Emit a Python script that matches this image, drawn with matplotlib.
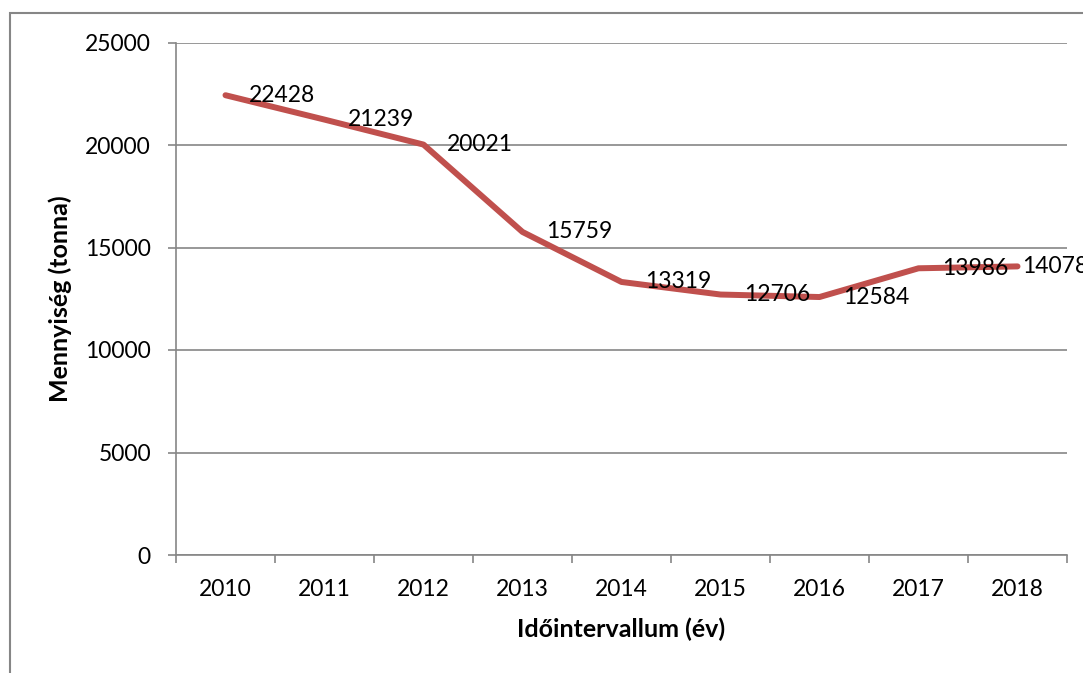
import matplotlib
matplotlib.use("Agg")
import matplotlib.pyplot as plt
from matplotlib.patches import Rectangle

years = ["2010", "2011", "2012", "2013", "2014", "2015", "2016", "2017", "2018"]
values = [22428, 21239, 20021, 15759, 13319, 12706, 12584, 13986, 14078]
y_ticks = [0, 5000, 10000, 15000, 20000, 25000]
x_title = "Időintervallum (év)"
y_title = "Mennyiség (tonna)"

plt.rcParams['font.family'] = ['Lato', 'DejaVu Sans']

W, H = 1083, 673
fig = plt.figure(figsize=(W / 100, H / 100), dpi=100)
ax = fig.add_axes([176 / W, (H - 555) / H, (1067 - 176) / W, (555 - 42.5) / H])

grid_c = "#868686"
line_c = "#C0504D"

x = list(range(len(years)))
ax.plot(x, values, color=line_c, lw=4.3, solid_capstyle="round",
        solid_joinstyle="round", zorder=3)

# data labels to the right of each point
label_dx = [17, 17, 17, 17, 17, 17, 17, 17, 3]
for xi, v, dx in zip(x, values, label_dx):
    ax.annotate(str(v), (xi, v), xytext=(dx, 0), textcoords="offset points",
                ha="left", va="center", fontsize=16.5, color="black",
                annotation_clip=False, zorder=4)

ax.set_xlim(-0.5, len(years) - 0.5)
ax.set_ylim(0, 25000)
ax.set_yticks(y_ticks)
ax.set_yticklabels([str(t) for t in y_ticks], fontsize=16.5)
ax.set_xticks(x)
ax.set_xticklabels(years, fontsize=16.5)
ax.set_xticks([i - 0.5 for i in range(len(years) + 1)], minor=True)
ax.tick_params(axis="x", which="major", length=0, pad=17)
ax.tick_params(axis="x", which="minor", length=6, width=1.2, color=grid_c, direction="out")
ax.tick_params(axis="y", length=6, width=1.2, color=grid_c, pad=12)
ax.yaxis.grid(True, color=grid_c, lw=1.2)
ax.set_axisbelow(True)
for s in ["top", "right"]:
    ax.spines[s].set_visible(False)
for s in ["left", "bottom"]:
    ax.spines[s].set_color(grid_c)
    ax.spines[s].set_linewidth(1.2)

ax.set_xlabel(x_title, fontsize=18, fontweight="bold", labelpad=13)
ax.set_ylabel(y_title, fontsize=18, fontweight="bold")
ax.yaxis.set_label_coords(-0.117, 0.5)

# outer chart border (extends beyond the image at right and bottom)
fig.patches.append(Rectangle((10 / W, -0.1), 1.2, (H - 13) / H + 0.1,
                             transform=fig.transFigure, fill=False,
                             edgecolor=grid_c, lw=1.5))

fig.savefig("out.png", dpi=100)
